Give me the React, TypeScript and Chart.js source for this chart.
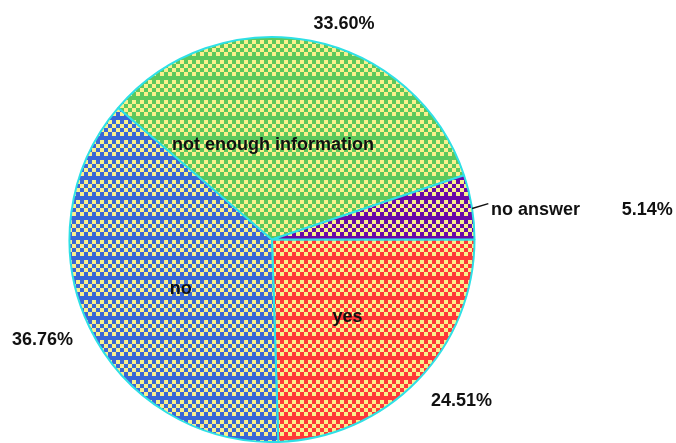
import React, { useEffect, useRef } from "react";
import { Chart, registerables } from "chart.js";

Chart.register(...registerables);

const categories = ["yes", "no", "not enough information", "no answer"];
const values = [24.51, 36.76, 33.6, 5.14];
const percentLabels = values.map((v) => v.toFixed(2) + "%");
const sliceColors = ["#ff3838", "#3a66d6", "#5cc85c", "#6a08a8"];
const hatchColor = "#faf08c";
const borderColor = "#2ee0e6";

// label layout: angle offset (deg) from slice mid, radius factor
const innerLayout = [
  [1.6, 0.534],
  [-2.9, 0.513],
  [-10.4, 0.466],
  [2.8, 1.31],
];
const pctLayout = [
  [-3.7, 1.229],
  [1.85, 1.238],
  [7.5, 1.12],
  [4.7, 1.859],
];

function makePattern(color: string): CanvasPattern | string {
  const c = document.createElement("canvas");
  c.width = 8;
  c.height = 20;
  const g = c.getContext("2d");
  if (!g) return color;
  g.fillStyle = hatchColor;
  g.fillRect(0, 0, 8, 20);
  g.fillStyle = color;
  for (let r = 0; r < 4; r++) {
    for (let col = 0; col < 2; col++) {
      if ((r + col) % 2 === 0) g.fillRect(col * 4, r * 4, 4, 4);
    }
  }
  g.fillRect(0, 16, 8, 4);
  const p = g.createPattern(c, "repeat");
  return p || color;
}

const labelPlugin = {
  id: "pieLabels",
  afterDraw(chart: any) {
    const ctx = chart.ctx;
    const meta = chart.getDatasetMeta(0);
    ctx.save();
    ctx.font = 'bold 18px "Liberation Sans", Arial, sans-serif';
    ctx.fillStyle = "#111";
    ctx.textAlign = "center";
    ctx.textBaseline = "middle";
    meta.data.forEach((arc: any, i: number) => {
      const { x, y, startAngle, endAngle, outerRadius } = arc.getProps(
        ["x", "y", "startAngle", "endAngle", "outerRadius"],
        true
      );
      const mid = (startAngle + endAngle) / 2;
      const [ia, ir] = innerLayout[i];
      const a1 = mid + (ia * Math.PI) / 180;
      ctx.fillText(categories[i], x + Math.cos(a1) * ir * outerRadius, y + Math.sin(a1) * ir * outerRadius);
      const [pa, pr] = pctLayout[i];
      const a2 = mid + (pa * Math.PI) / 180;
      ctx.fillText(percentLabels[i], x + Math.cos(a2) * pr * outerRadius, y + Math.sin(a2) * pr * outerRadius);
      if (ir > 1) {
        ctx.strokeStyle = "#111";
        ctx.lineWidth = 1.5;
        ctx.beginPath();
        ctx.moveTo(x + Math.cos(mid + 0.0077) * outerRadius, y + Math.sin(mid + 0.0077) * outerRadius);
        ctx.lineTo(x + Math.cos(mid - 0.003) * outerRadius * 1.083, y + Math.sin(mid - 0.003) * outerRadius * 1.083);
        ctx.stroke();
      }
    });
    ctx.restore();
  },
};

export default function App() {
  const ref = useRef<HTMLCanvasElement>(null);
  useEffect(() => {
    if (!ref.current) return;
    const chart = new Chart(ref.current, {
      type: "pie",
      data: {
        labels: categories,
        datasets: [
          {
            data: values,
            backgroundColor: sliceColors.map(makePattern) as any,
            borderColor: borderColor,
            borderWidth: 2,
          },
        ],
      },
      options: {
        animation: false,
        responsive: false,
        rotation: 90,
        layout: { padding: { left: 68, right: 200, top: 36, bottom: 0 } },
        plugins: { legend: { display: false }, tooltip: { enabled: false } },
      },
      plugins: [labelPlugin],
    });
    return () => chart.destroy();
  }, []);
  return (
    <div style={{ position: "absolute", left: 0, top: 0, width: 676, height: 443, background: "#fff" }}>
      <canvas ref={ref} width={676} height={443} />
    </div>
  );
}
